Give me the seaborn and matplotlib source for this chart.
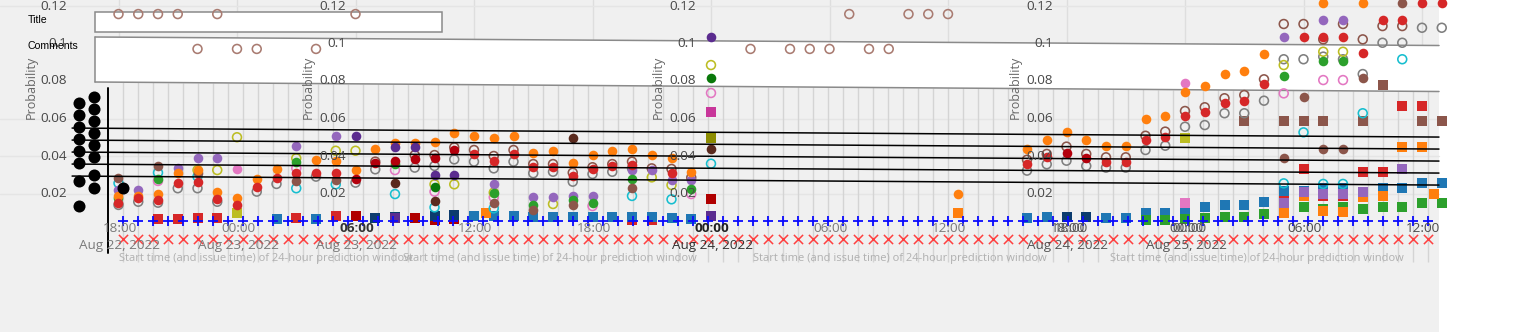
import numpy as np
import pandas as pd
import matplotlib
matplotlib.use("Agg")
import matplotlib.pyplot as plt
import seaborn as sns
from matplotlib.patches import Polygon, Rectangle

sns.set_theme(style="white")
plt.rcParams['font.family'] = ['Open Sans', 'DejaVu Sans']

# ------------------------------------------------------------------ data
# hours after 2022-08-22 18:00 (start / issue time) and probability values
orange_f_h = [0,1,2,3,4,5,6,7,8,10,11,12,13,14,15,16,17,18,19,20,21,22,23,24,25,26,27,28,29,42.5,
              46,47,48,49,50,51,52,53,54,55,56,57,58,61,63]
orange_f_p = [.0187,.0187,.0197,.0311,.0325,.0210,.0178,.0276,.0329,.0377,.0373,.0325,.0436,.0471,.0471,
              .0476,.0524,.0507,.0494,.0507,.0418,.0428,.0361,.0405,.0428,.0436,.0405,.0388,.0316,.0197,
              .0436,.0485,.0526,.0485,.0455,.0455,.0597,.0615,.0743,.0775,.0836,.0855,.0944,.1214,.1214]
red_f_h = [0,1,2,3,4,5,6,7,8,9,10,11,18,19,20,21,22,23,24,25,26,28,46,47,50,51,52,53,54,55,56,57,58,
           60,61,62,63,64,65,66,67]
red_f_p = [.0148,.0178,.0165,.0258,.0260,.0169,.0139,.0233,.0281,.0308,.0308,.0308,.0409,.0375,.0411,
           .0340,.0343,.0295,.0329,.0347,.0352,.0308,.0356,.0396,.0366,.0366,.0485,.0503,.0615,.0636,
           .0684,.0695,.0784,.1036,.1036,.1036,.0948,.1125,.1125,.1214,.1214]
darkred_f_h = [12,13,14,15,16,17,48,49]
darkred_f_p = [.0276,.0361,.0375,.0382,.0388,.0432,.0414,.0388]
gray_o_h = [0,1,2,3,4,5,7,8,10,12,13,15,16,17,18,19,20,21,22,23,24,25,26,
            46,47,48,49,50,51,52,53,54,55,56,57,58,59,60,61,62,63,64,65,66,67]
gray_o_p = [.0139,.0156,.0151,.0228,.0228,.0156,.0210,.0251,.0290,.0258,.0329,.0338,.0347,.0382,.0370,
            .0334,.0370,.0308,.0316,.0263,.0304,.0316,.0335,.0322,.0356,.0375,.0347,.0338,.0338,.0432,
            .0455,.0556,.0565,.0628,.0628,.0695,.0916,.0916,.0930,.0916,.0837,.1004,.1004,.1084,.1084]
brown_o_h = [13,15,16,17,18,19,20,21,22,23,24,25,26,27,28,29,
             46,47,48,49,50,51,52,53,54,55,56,57,58,59,60,61,62,63,64,65]
brown_o_p = [.0370,.0405,.0405,.0446,.0432,.0400,.0432,.0357,.0357,.0311,.0340,.0357,.0370,.0334,.0331,
             .0285,.0380,.0411,.0450,.0411,.0393,.0393,.0508,.0530,.0640,.0660,.0708,.0725,.0809,.1104,
             .1104,.1022,.1104,.1022,.1093,.1093]
rosy_o_h = [0,1,2,3,5,12,37,40,41,42,4,6,7,10,32,34,35,36,38,39]
rosy_o_p = [.1157,.1157,.1157,.1157,.1157,.1157,.1157,.1157,.1157,.1157,
            .0971,.0971,.0971,.0971,.0971,.0971,.0971,.0971,.0971,.0971]
purple_f_h = [0,1,3,4,5,9,11,19,21,22,23,24,26,27,28,29,59,61,62]
purple_f_p = [.0219,.0219,.0338,.0388,.0388,.0453,.0507,.0249,.0180,.0180,.0187,.0187,.0325,.0325,
              .0272,.0272,.1036,.1125,.1125]
darkpurple_f_h = [12,14,15,16,17,30]
darkpurple_f_p = [.0507,.0446,.0446,.0299,.0299,.1035]
olive_o_h = [4,5,6,9,11,12,16,17,19,22,27,28,30,59,61,62]
olive_o_p = [.0325,.0325,.0500,.0388,.0428,.0428,.0249,.0249,.0205,.0144,.0286,.0245,.0885,.0885,
             .0956,.0956]
green_f_h = [0,2,9,14,19,21,23,24,26,29,59,61,62]
green_f_p = [.0174,.0280,.0370,.0357,.0201,.0139,.0165,.0151,.0276,.0222,.0827,.0907,.0907]
darkgreen_f_h = [16,30]
darkgreen_f_p = [.0236,.0816]
pink_o_h = [2,9,14,16,19,24,29,30,59,61,62]
pink_o_p = [.0267,.0335,.0325,.0210,.0180,.0133,.0197,.0736,.0734,.0805,.0805]
pink_f_h = [6,54]
pink_f_p = [.0329,.0788]
cyan_o_h = [0,2,4,9,11,14,16,19,26,28,30,59,60,61,62,63,65]
cyan_o_p = [.0255,.0311,.0290,.0228,.0249,.0197,.0126,.0121,.0187,.0169,.0359,.0254,.0526,.0251,
            .0251,.0628,.0916]
brown_f_h = [0,2,4,9,11,19,21,23,26,59,60,61,62,63,65]
brown_f_p = [.0284,.0348,.0311,.0268,.0272,.0148,.0112,.0139,.0228,.0388,.0716,.0436,.0436,.0814,.1214]
darkbrown_f_h = [14,16,23,30]
darkbrown_f_p = [.0258,.0160,.0498,.0436]

blue_s_h = [8,10,18,19,20,21,22,23,24,25,26,27,28,29,46,47,50,51,52,53,54,55,56,57,58,59,60,61,62,
            64,65,66,67]
blue_s_p = [.0065,.0065,.0080,.0080,.0080,.0073,.0073,.0073,.0073,.0073,.0073,.0073,.0068,.0062,.0068,
            .0076,.0071,.0071,.0098,.0098,.0112,.0126,.0139,.0139,.0156,.0215,.0215,.0228,.0228,.0228,
            .0228,.0258,.0258]
red_s_h = [2,3,4,5,9,11,26,27,59,60,61,62,63,64,65,66]
red_s_p = [.0062,.0065,.0068,.0068,.0071,.0080,.0060,.0060,.0174,.0329,.0185,.0185,.0316,.0316,.0667,.0667]
darkred_s_h = [12,15,16,17,30]
darkred_s_p = [.0080,.0071,.0060,.0062,.0169]
darkblue_s_h = [13,14,16,17,48,49]
darkblue_s_p = [.0071,.0076,.0080,.0085,.0076,.0076]
darkpurple_s_h = [14,30]
darkpurple_s_p = [.0070,.0080]
orange_s_h = [18.6,42.5,59,60,61,62,63,64,65,66,66.6]
orange_s_p = [.0098,.0098,.0094,.0187,.0105,.0103,.0183,.0187,.0450,.0450,.0197]
green_s_h = [52,53,54,55,56,57,58,59,60,61,62,63,64,65,66,67]
green_s_p = [.0059,.0059,.0064,.0071,.0073,.0076,.0089,.0116,.0126,.0116,.0126,.0116,.0126,.0126,
             .0148,.0148]
purple_s_h = [59,60,61,62,63,65]
purple_s_p = [.0148,.0210,.0197,.0197,.0210,.0329]
brown_s_h = [57,59,60,61,63,64,66,67]
brown_s_p = [.0587,.0588,.0587,.0587,.0587,.0779,.0587,.0587]
pink_s_h = [54]
pink_s_p = [.0148]
olive_s_h = [6,54]
olive_s_p = [.0098,.0494]
darkolive_s_h = [30]
darkolive_s_p = [.0498]
magenta_s_h = [30]
magenta_s_p = [.0635]

# hourly prediction windows of the overlapped panel (index of the hour)
window_hours = pd.date_range("2022-08-22 18:00", periods=88, freq="h")
plus_prob = [0.0053] * 88
cross_prob = [-0.0043] * 88

# black legend-like dots and lines of the overlapped panel
dots_a_h = [-2.0] * 8
dots_a_p = [.0683,.0619,.0555,.0491,.0427,.0363,.0267,.0133]
dots_b_h = [-1.24] * 8
dots_b_p = [.0715,.0651,.0587,.0523,.0459,.0395,.0299,.0229]
dot_c_h = [0.23]
dot_c_p = [.0231]
hline_start_p = [.0549,.0485,.0421,.0357,.0293]
hline_end_p = [.0501,.0437,.0373,.0309,.0245]
hline_h = [-2.35, 66.86]

yticks = [0.12, 0.1, 0.08, 0.06, 0.04, 0.02]
ytick_labels = ["0.12", "0.1", "0.08", "0.06", "0.04", "0.02"]
xtick_hours = [0, 6, 12, 18, 24, 30, 36, 42, 48, 54, 60, 66]
xtick_time = ["18:00", "00:00", "06:00", "12:00", "18:00", "00:00", "06:00", "12:00",
              "18:00", "00:00", "06:00", "12:00"]
xtick_date = ["Aug 22, 2022", "Aug 23, 2022", "Aug 23, 2022", "", "", "Aug 24, 2022", "", "",
              "Aug 24, 2022", "Aug 25, 2022", "", ""]
xtitle = "Start time (and issue time) of 24-hour prediction window"

# ------------------------------------------------------------------ layout
W, H = 1515, 332
X0, PXH = 118.5, 19.75        # pixel of hour 0, pixels per hour
Y0, PXP = 231.0, 1875.0       # pixel of prob 0, pixels per unit prob
WX0, WPX = 122.7, 15.0        # overlapped panel: first window pixel, pixels per window


def hx(px):
    return (px - X0) / PXH


def py(px):
    return (Y0 - px) / PXP


fig = plt.figure(figsize=(W / 100, H / 100), dpi=100)
fig.patch.set_facecolor("white")


def new_ax(z):
    a = fig.add_axes([0, 0, 1, 1], zorder=z)
    a.set_axis_off()
    a.patch.set_alpha(0)
    return a


# background layer in pixel coordinates
bg = new_ax(0)
bg.set_xlim(0, W)
bg.set_ylim(H, 0)
GRAY_R = 1439
bg.add_patch(Rectangle((0, 0), GRAY_R, H, fc="#f0f0f0", ec="none"))


def band_top(x):
    return 37 + (45.5 - 37) * (x - 95) / (GRAY_R - 95)


def band_bot(x):
    return 82 + (91.5 - 82) * (x - 95) / (GRAY_R - 95)


# 6-hour gridlines in the upper region
for h in xtick_hours:
    x = X0 + PXH * h
    bg.plot([x, x], [0, band_top(x)], color="#dedede", lw=1, zorder=1)
# faint horizontal gridlines
for v in [0.12, 0.06, 0.04, 0.02]:
    y = Y0 - PXP * v
    bg.plot([0, GRAY_R], [y, y], color="#e5e5e5", lw=1, zorder=1)
# lower vertical gridlines at each window
wx = WX0 + WPX * np.arange(len(window_hours))
bg.vlines(wx, [band_bot(x) for x in wx], 262, color="#d4d4d4", lw=1, zorder=2)
# comments band and title box
bg.add_patch(Polygon([(95, 37), (GRAY_R, 45.5), (GRAY_R, 91.5), (95, 82)], closed=True,
                     fc="white", ec="none", zorder=3))
bg.plot([95, GRAY_R], [37, 45.5], color="#8a8a8a", lw=1.1, zorder=4)
bg.plot([95, GRAY_R], [82, 91.5], color="#8a8a8a", lw=1.1, zorder=4)
bg.plot([95, 95], [37, 82], color="#8a8a8a", lw=1.1, zorder=4)
bg.add_patch(Rectangle((95, 12), 347, 20, fc="white", ec="#8a8a8a", lw=1.1, zorder=4))
# y axis line
bg.plot([108, 108], [88, 253], color="black", lw=1.4, zorder=5)

# ------------------------------------------------------------------ main data
ax = new_ax(1)
S = 48


def marks(hours, probs, color, marker, filled, size=S):
    if filled:
        sns.scatterplot(x=hours, y=probs, ax=ax, color=color, marker=marker, s=size,
                        linewidth=0, legend=False)
    else:
        ax.scatter(hours, probs, marker=marker, s=size * 0.85, facecolors="none",
                   edgecolors=color, linewidths=1.15)


SQ = 44
marks(red_s_h, red_s_p, "#d62728", "s", True, SQ)
marks(blue_s_h, blue_s_p, "#1f77b4", "s", True, SQ)
marks(darkred_s_h, darkred_s_p, "#b00000", "s", True, SQ)
marks(darkblue_s_h, darkblue_s_p, "#0b3b6e", "s", True, SQ)
marks(darkpurple_s_h, darkpurple_s_p, "#5b2c8f", "s", True, SQ)
marks(green_s_h, green_s_p, "#2ca02c", "s", True, SQ)
marks(orange_s_h, orange_s_p, "#ff7f0e", "s", True, SQ)
marks(purple_s_h, purple_s_p, "#9467bd", "s", True, SQ)
marks(brown_s_h, brown_s_p, "#8c564b", "s", True, SQ)
marks(pink_s_h, pink_s_p, "#e377c2", "s", True, SQ)
marks(olive_s_h, olive_s_p, "#bcbd22", "s", True, SQ)
marks(darkolive_s_h, darkolive_s_p, "#8c8c00", "s", True, SQ)
marks(magenta_s_h, magenta_s_p, "#c8369a", "s", True, SQ)

marks(rosy_o_h, rosy_o_p, "#a97b71", "o", False)
marks(gray_o_h, gray_o_p, "#7f7f7f", "o", False)
marks(brown_o_h, brown_o_p, "#8c564b", "o", False)
marks(cyan_o_h, cyan_o_p, "#17becf", "o", False)
marks(pink_o_h, pink_o_p, "#e377c2", "o", False)
marks(olive_o_h, olive_o_p, "#bcbd22", "o", False)

marks(purple_f_h, purple_f_p, "#9467bd", "o", True)
marks(green_f_h, green_f_p, "#2ca02c", "o", True)
marks(brown_f_h, brown_f_p, "#8c564b", "o", True)
marks(pink_f_h, pink_f_p, "#e377c2", "o", True)
marks(orange_f_h, orange_f_p, "#ff7f0e", "o", True)
marks(red_f_h, red_f_p, "#d62728", "o", True)
marks(darkred_f_h, darkred_f_p, "#b3000c", "o", True)
marks(darkpurple_f_h, darkpurple_f_p, "#5b2c8f", "o", True)
marks(darkgreen_f_h, darkgreen_f_p, "#0a780a", "o", True)
marks(darkbrown_f_h, darkbrown_f_p, "#5a2a1e", "o", True)
ax.set_xlim(hx(0), hx(W))
ax.set_ylim(py(H), py(0))
ax.set_axis_off()

# overlapped panel: hourly windows
axw = new_ax(2)
widx = (window_hours - window_hours[0]) / pd.Timedelta(hours=1)
sns.scatterplot(x=widx, y=plus_prob, ax=axw, marker="+", s=62, color="#0a0aff",
                linewidth=1.3, legend=False)
sns.scatterplot(x=widx, y=cross_prob, ax=axw, marker="x", s=44, color="#ff4040",
                linewidth=1.1, legend=False)
axw.set_xlim(-WX0 / WPX, (W - WX0) / WPX)
axw.set_ylim(py(H), py(0))
axw.set_axis_off()

axt = new_ax(3)
for a, b in zip(hline_start_p, hline_end_p):
    axt.plot(hline_h, [a, b], color="black", lw=1.1)
sns.scatterplot(x=dots_a_h + dots_b_h + dot_c_h, y=dots_a_p + dots_b_p + dot_c_p, ax=axt,
                color="black", s=75, linewidth=0, legend=False)
axt.set_xlim(hx(0), hx(W))
axt.set_ylim(py(H), py(0))
axt.set_axis_off()

# ------------------------------------------------------------------ text


def ptext(x, y, s, **kw):
    return fig.text(x / W, 1 - y / H, s, zorder=10, **kw)


# y tick labels of the four overlapped panels
for xr in [67, 346, 696, 1053]:
    for v, lab in zip(yticks, ytick_labels):
        ptext(xr, Y0 - PXP * v, lab, ha="right", va="center", fontsize=9.7, color="#474747")
for xc in [31, 308, 658, 1015]:
    ptext(xc, 87, "Probability", rotation=90, ha="center", va="center", fontsize=9,
          color="#666666")

ptext(28, 20, "Title", ha="left", va="center", fontsize=7.6, color="black",
      family=["Liberation Sans", "DejaVu Sans"])
ptext(28, 46, "Comments", ha="left", va="center", fontsize=7.6, color="black",
      family=["Liberation Sans", "DejaVu Sans"])

dark_idx = {2: ("#333333", "bold"), 5: ("#222222", "bold"), 8: ("#555555", "normal"),
            9: ("#555555", "normal"), 10: ("#4a4a4a", "normal"), 11: ("#4a4a4a", "normal")}
for i, (h, tl, dl) in enumerate(zip(xtick_hours, xtick_time, xtick_date)):
    x = X0 + PXH * h + 1
    col, wt = dark_idx.get(i, ("#7a7a7a", "normal"))
    ptext(x, 229, tl, ha="center", va="center", fontsize=9.7, color=col, fontweight=wt)
    if i in (8, 9):
        ptext(x + 3, 229, tl, ha="center", va="center", fontsize=9.7, color=col)
    if dl:
        dcol = "#333333" if i == 5 else ("#555555" if i in (8, 9) else "#7a7a7a")
        ptext(x, 246, dl, ha="center", va="center", fontsize=9.7, color=dcol)

renderer = fig.canvas.get_renderer()
for xc in [266, 550, 900, 1257]:
    t = ptext(xc, 258, xtitle, ha="center", va="center", fontsize=9, color="#b0b0b0")
    w = t.get_window_extent(renderer).width
    t.set_fontsize(9 * 295 / w)

fig.savefig("out.png", dpi=100, facecolor="white")
